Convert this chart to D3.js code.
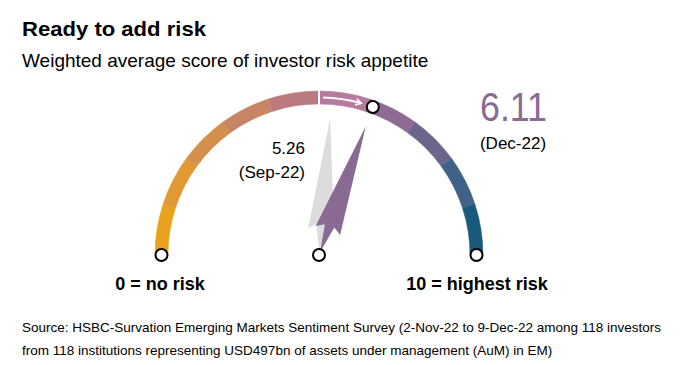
<!DOCTYPE html>
<meta charset="utf-8">
<script src="https://d3js.org/d3.v7.min.js"></script>
<style>
body { margin: 0; background: #fff; }
text { font-family: "Liberation Sans", Arial, sans-serif; fill: #000; }
.title { font-size: 21px; font-weight: bold; }
.sub { font-size: 19px; }
.end { font-size: 18px; font-weight: bold; }
.src { font-size: 13.5px; }
</style>
<body>
<script>
// scale runs 0..10, one band per point
var segStart = [0, 1, 2, 3, 4, 5, 6, 7, 8, 9];
var segColors = ["#e9a21b", "#e19a33", "#d58f4c", "#c88565", "#bb7a7e",
                 "#b57a9e", "#8d6b93", "#6b668c", "#416287", "#19597b"];
var readingLabels = ["Sep-22", "Dec-22"];
var readingValues = [5.26, 6.11];
var endLabels = ["0 = no risk", "10 = highest risk"];

var width = 696, height = 365;
var cx = 319, cy = 255, r = 157.5;

var svg = d3.select("body").append("svg")
    .attr("width", width)
    .attr("height", height);

svg.append("text").attr("class", "title").attr("x", 22).attr("y", 36)
    .attr("textLength", 184).attr("lengthAdjust", "spacingAndGlyphs")
    .text("Ready to add risk");
svg.append("text").attr("class", "sub").attr("x", 22).attr("y", 67)
    .text("Weighted average score of investor risk appetite");

var ang = d3.scaleLinear().domain([0, 10]).range([-Math.PI / 2, Math.PI / 2]);

var g = svg.append("g").attr("transform", "translate(" + cx + "," + cy + ")");

var band = d3.arc().innerRadius(r - 6.5).outerRadius(r + 6.5);

g.selectAll("path.seg")
    .data(segStart)
    .enter().append("path")
    .attr("class", "seg")
    .attr("d", function(d) { return band({startAngle: ang(d), endAngle: ang(d + 1)}); })
    .attr("fill", function(d, i) { return segColors[i]; })
    .attr("stroke", function(d, i) { return segColors[i]; })
    .attr("stroke-width", 0.5);

// white gap at the midpoint
var mid = ang(5);
g.append("line")
    .attr("x1", (r - 8) * Math.sin(mid)).attr("y1", -(r - 8) * Math.cos(mid))
    .attr("x2", (r + 8) * Math.sin(mid)).attr("y2", -(r + 8) * Math.cos(mid))
    .attr("stroke", "#fff").attr("stroke-width", 2);

// little arrow showing the move
svg.append("defs").append("marker")
    .attr("id", "ah").attr("viewBox", "0 0 10 10").attr("refX", 7).attr("refY", 5)
    .attr("markerWidth", 4).attr("markerHeight", 4).attr("orient", "auto")
  .append("path").attr("d", "M1,1 L8,5 L1,9").attr("fill", "none")
    .attr("stroke", "#fff").attr("stroke-width", 2);

var a0 = ang(5.08), a1 = ang(5.85);
var path = d3.path();
path.arc(0, 0, r, a0 - Math.PI / 2, a1 - Math.PI / 2);
g.append("path")
    .attr("d", path.toString())
    .attr("fill", "none")
    .attr("stroke", "#fff")
    .attr("stroke-width", 2)
    .attr("marker-end", "url(#ah)");

// needles
var needleShape = [[137, 0], [26, 13], [31, 5], [3, 0], [31, -5], [26, -13]];
var needleColors = ["#dcdcdc", "#896a92"];

g.selectAll("path.needle")
    .data(readingValues)
    .enter().append("path")
    .attr("class", "needle")
    .attr("d", function(d) {
        var a = ang(d);
        var ux = Math.sin(a), uy = -Math.cos(a);
        var px = Math.cos(a), py = Math.sin(a);
        return "M" + needleShape.map(function(p) {
            return [p[0] * ux + p[1] * px, p[0] * uy + p[1] * py].join(",");
        }).join("L") + "Z";
    })
    .attr("fill", function(d, i) { return needleColors[i]; });

// dots: both ends, the pivot, and latest reading on the arc
var dots = [[ang(0), r], [ang(10), r], [0, 0], [ang(readingValues[1]), r]];
g.selectAll("circle")
    .data(dots)
    .enter().append("circle")
    .attr("cx", function(d) { return d[1] * Math.sin(d[0]); })
    .attr("cy", function(d) { return -d[1] * Math.cos(d[0]); })
    .attr("r", 6)
    .attr("fill", "#fff")
    .attr("stroke", "#000")
    .attr("stroke-width", 2);

// readings
svg.append("text").attr("x", 305).attr("y", 154).attr("text-anchor", "end")
    .style("font-size", "17px").text(readingValues[0].toFixed(2));
svg.append("text").attr("x", 305).attr("y", 178).attr("text-anchor", "end")
    .style("font-size", "17px").text("(" + readingLabels[0] + ")");

svg.append("text").attr("x", 480).attr("y", 121)
    .attr("textLength", 67).attr("lengthAdjust", "spacingAndGlyphs")
    .style("font-size", "40px").style("fill", "#896a92").text(readingValues[1].toFixed(2));
svg.append("text").attr("x", 513).attr("y", 149).attr("text-anchor", "middle")
    .style("font-size", "17px").text("(" + readingLabels[1] + ")");

svg.append("text").attr("class", "end").attr("x", 160).attr("y", 290).attr("text-anchor", "middle").text(endLabels[0]);
svg.append("text").attr("class", "end").attr("x", 477).attr("y", 290).attr("text-anchor", "middle").text(endLabels[1]);

svg.append("text").attr("class", "src").attr("x", 22).attr("y", 332)
    .text("Source: HSBC-Survation Emerging Markets Sentiment Survey (2-Nov-22 to 9-Dec-22 among 118 investors");
svg.append("text").attr("class", "src").attr("x", 22).attr("y", 355)
    .text("from 118 institutions representing USD497bn of assets under management (AuM) in EM)");
</script>
</body>
